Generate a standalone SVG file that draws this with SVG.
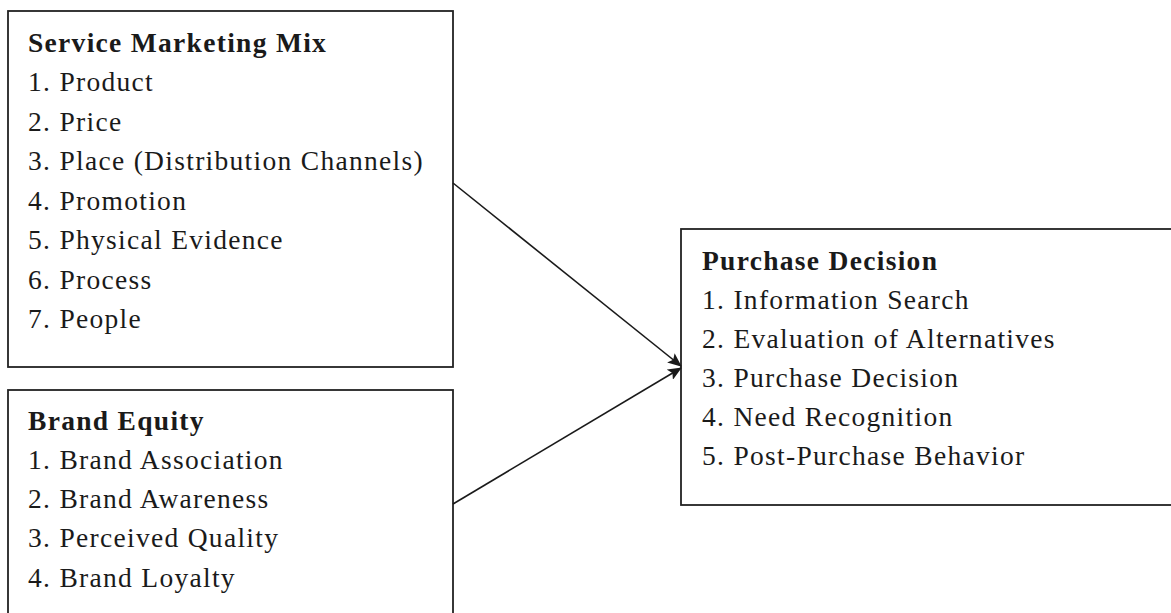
<svg xmlns="http://www.w3.org/2000/svg" width="1171" height="613" viewBox="0 0 1171 613">
<defs>
<marker id="ah" markerWidth="14" markerHeight="12" refX="13" refY="6" orient="auto" markerUnits="userSpaceOnUse">
<path d="M0,0 L14,6 L0,12 L3,6 Z" fill="#1a1a1a"/>
</marker>
<style>
.box{fill:#fff;stroke:#222;stroke-width:1.8}
.t{font-family:"Liberation Serif","Times New Roman",serif;font-size:27.5px;letter-spacing:1.3px;fill:#1a1a1a}
.h{font-weight:bold}
.c{stroke:#1a1a1a;stroke-width:1.6;fill:none}
</style>
</defs>
<rect width="1171" height="613" fill="#fff"/>
<g id="service-marketing-mix">
<rect class="box" x="8" y="11" width="445" height="356"/>
<text class="t h" x="28" y="52">Service Marketing Mix</text>
<text class="t" x="28" y="91">1. Product</text>
<text class="t" x="28" y="131">2. Price</text>
<text class="t" x="28" y="170">3. Place (Distribution Channels)</text>
<text class="t" x="28" y="210">4. Promotion</text>
<text class="t" x="28" y="249">5. Physical Evidence</text>
<text class="t" x="28" y="289">6. Process</text>
<text class="t" x="28" y="328">7. People</text>
</g>
<g id="brand-equity">
<rect class="box" x="8" y="390" width="445" height="240"/>
<text class="t h" x="28" y="430">Brand Equity</text>
<text class="t" x="28" y="469">1. Brand Association</text>
<text class="t" x="28" y="508">2. Brand Awareness</text>
<text class="t" x="28" y="547">3. Perceived Quality</text>
<text class="t" x="28" y="587">4. Brand Loyalty</text>
</g>
<g id="purchase-decision">
<rect class="box" x="681" y="229" width="530" height="276"/>
<text class="t h" x="702" y="270">Purchase Decision</text>
<text class="t" x="702" y="309">1. Information Search</text>
<text class="t" x="702" y="348">2. Evaluation of Alternatives</text>
<text class="t" x="702" y="387">3. Purchase Decision</text>
<text class="t" x="702" y="426">4. Need Recognition</text>
<text class="t" x="702" y="465">5. Post-Purchase Behavior</text>
</g>
<g id="connectors">
<line class="c" x1="453" y1="183" x2="681" y2="366" marker-end="url(#ah)"/>
<line class="c" x1="453" y1="504" x2="681" y2="368" marker-end="url(#ah)"/>
</g>
</svg>
